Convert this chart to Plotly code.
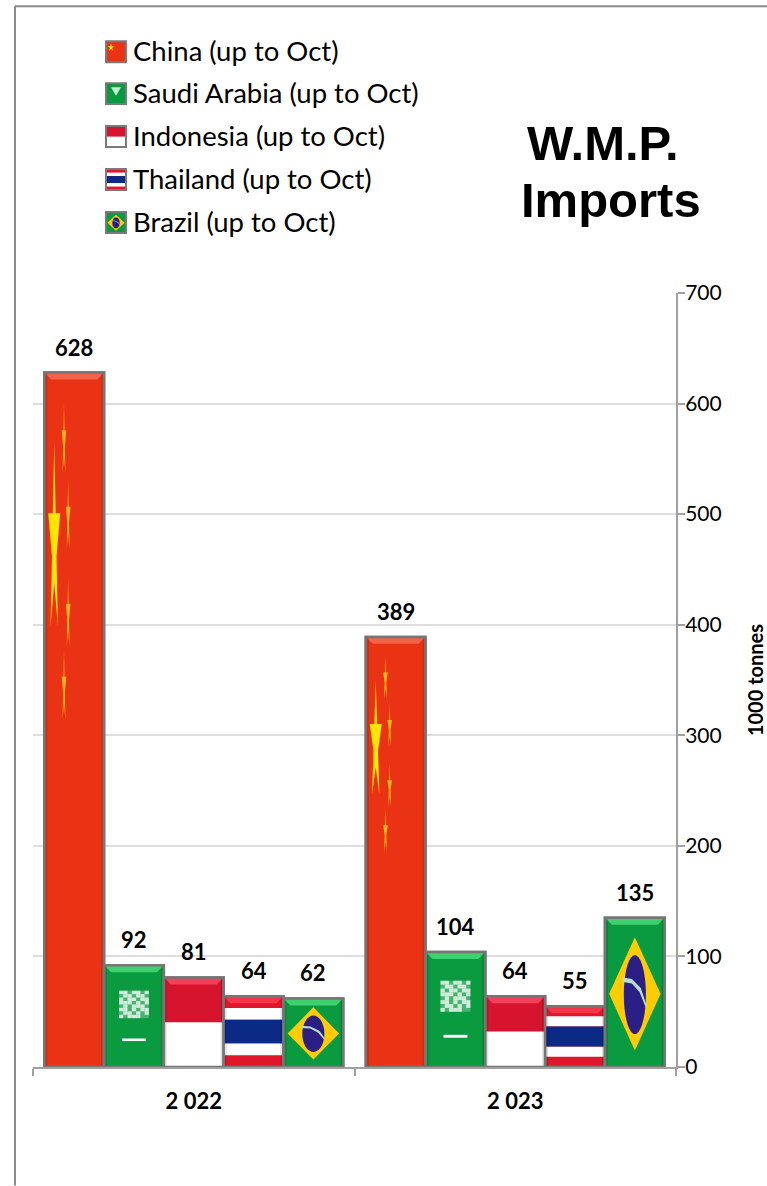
import math
import plotly.graph_objects as go

# ---- data ----
years = ["2 022", "2 023"]
countries = ["China", "Saudi Arabia", "Indonesia", "Thailand", "Brazil"]
legend_suffix = " (up to Oct)"
china = [628, 389]
saudi = [92, 104]
indonesia = [81, 64]
thailand = [64, 55]
brazil = [62, 135]
series = [china, saudi, indonesia, thailand, brazil]
y_ticks = [0, 100, 200, 300, 400, 500, 600, 700]

# ---- layout geometry (pixels of the page) ----
W, H = 767, 1186
L, R, T, B = 33, 676, 293, 1067.5
PW, PH = R - L, B - T
BARGAP = 0.07
BAR_W = (1 - BARGAP) / 5
PX_X = PW / 2.0      # px per x unit
PX_Y = PH / 700.0    # px per y unit

RED = "#EA3314"
GREEN = "#0A9A3F"
IND_RED = "#D7142E"
TH_RED = "#E0162B"
TH_BLUE = "#0A2A85"
YELLOW = "#FFCB05"
DBLUE = "#2B1F85"
BORDER = "#767676"
colors = [RED, GREEN, IND_RED, TH_RED, GREEN]
bevels = ["#F2634A", "#3FD070", "#F0405A", "#F5364A", "#3FD070"]

shapes = []


def poly(pts, fill, xref, yref, opacity=1.0):
    d = "M " + " L ".join(f"{x:.5f},{y:.5f}" for x, y in pts) + " Z"
    shapes.append(dict(type="path", path=d, fillcolor=fill, opacity=opacity,
                       line=dict(width=0), xref=xref, yref=yref, layer="above"))


def star(m, cu, cv, ru, rv, fill, ref):
    pts = []
    for k in range(10):
        a = -math.pi / 2 + k * math.pi / 5
        r = 1.0 if k % 2 == 0 else 0.38
        pts.append(m(cu + ru * r * math.cos(a), cv + rv * r * math.sin(a)))
    poly(pts, fill, *ref)


def ellipse_pts(m, cu, cv, ru, rv, n=36):
    return [m(cu + ru * math.cos(2 * math.pi * k / n), cv + rv * math.sin(2 * math.pi * k / n))
            for k in range(n)]


SAUDI_TEXT = ["1101101", "0110110", "1011011", "1110101", "0101110", "1101011", "0110101", "1011100"]


def draw_flag(idx, m, ref):
    """m maps (u, v) inside the bar (0..1, top to bottom) to axis coordinates"""
    rect = lambda u0, u1, v0, v1, c, o=1.0: poly(
        [m(u0, v0), m(u1, v0), m(u1, v1), m(u0, v1)], c, *ref, opacity=o)
    if idx == 0:
        star(m, 0.167, 0.2475, 0.105, 0.146, "#FFE600", ref)
        for cu, cv in [(0.33, 0.10), (0.40, 0.21), (0.40, 0.35), (0.33, 0.455)]:
            star(m, cu, cv, 0.04, 0.055, "#FDB515", ref)
    elif idx == 1:
        rows, cols = len(SAUDI_TEXT), len(SAUDI_TEXT[0])
        rect(0.25, 0.75, 0.25, 0.52, "#FFFFFF", 0.25)
        for r, row in enumerate(SAUDI_TEXT):
            for c, ch in enumerate(row):
                if ch == "1":
                    u0 = 0.25 + 0.5 * c / cols
                    v0 = 0.25 + 0.27 * r / rows
                    rect(u0, u0 + 0.5 / cols, v0, v0 + 0.27 / rows, "#FFFFFF", 0.75)
        rect(0.30, 0.70, 0.72, 0.745, "#FFFFFF")
    elif idx == 2:
        rect(0, 1, 0.5, 1, "#FFFFFF")
    elif idx == 3:
        rect(0, 1, 1 / 6, 2 / 6, "#FFFFFF")
        rect(0, 1, 2 / 6, 4 / 6, TH_BLUE)
        rect(0, 1, 4 / 6, 5 / 6, "#FFFFFF")
    elif idx == 4:
        poly([m(0.07, 0.51), m(0.5, 0.13), m(0.93, 0.51), m(0.5, 0.89)], YELLOW, *ref)
        poly(ellipse_pts(m, 0.5, 0.515, 0.185, 0.265), DBLUE, *ref)
        arc = [m(0.30, 0.40), m(0.45, 0.41), m(0.60, 0.47), m(0.69, 0.58),
               m(0.69, 0.61), m(0.58, 0.50), m(0.45, 0.44), m(0.30, 0.43)]
        poly(arc, "#B5DDD0", *ref)


traces = []
annotations = []
for i, (name, vals) in enumerate(zip(countries, series)):
    traces.append(go.Bar(name=name + legend_suffix, x=[0, 1], y=vals,
                         marker=dict(color=colors[i], line=dict(color=BORDER, width=2.5)),
                         showlegend=False))
    for g, v in enumerate(vals):
        x0 = g - (1 - BARGAP) / 2 + i * BAR_W
        x1 = x0 + BAR_W
        m = lambda u, w, x0=x0, x1=x1, v=v: (x0 + (x1 - x0) * u, v * (1 - w))
        ref = ("x", "y")
        draw_flag(i, m, ref)
        # bevel: lighter top band, darker sides
        dx, dy = 7 / PX_X, 7 / PX_Y
        sx = 3 / PX_X
        poly([(x0, v), (x1, v), (x1 - dx, v - dy), (x0 + dx, v - dy)], bevels[i], *ref)
        poly([(x0, 0), (x0 + sx, 0), (x0 + sx, v), (x0, v)], "#000000", *ref, opacity=0.12)
        poly([(x1 - sx, 0), (x1, 0), (x1, v), (x1 - sx, v)], "#000000", *ref, opacity=0.12)
        shapes.append(dict(type="rect", x0=x0, x1=x1, y0=0, y1=v, xref="x", yref="y",
                           line=dict(color=BORDER, width=2.5), layer="above"))
        annotations.append(dict(x=(x0 + x1) / 2, y=v, xref="x", yref="y", text=f"<b>{v}</b>",
                                showarrow=False, yanchor="bottom", yshift=10,
                                font=dict(family="Lato", size=22, color="#000000")))


# px -> paper helpers
def px(x):
    return (x - L) / PW


def py(y):
    return (B - y) / PH


# legend
legend_y = [50, 92, 135, 178, 221]
for i, (name, ly) in enumerate(zip(countries, legend_y)):
    sx0, sx1, sy0, sy1 = 106, 126, ly - 9, ly + 12
    m = lambda u, w, a=sx0, b=sx1, c=sy0, d=sy1: (px(a + (b - a) * u), py(c + (d - c) * w))
    ref = ("paper", "paper")
    poly([m(0, 0), m(1, 0), m(1, 1), m(0, 1)], colors[i], *ref)
    if i == 1:
        poly([m(.25, .2), m(.75, .2), m(.5, .6)], "#BFF0CF", *ref)
    elif i == 0:
        star(m, 0.25, 0.3, 0.16, 0.2, "#FFE600", ref)
    else:
        draw_flag(i, m, ref)
    shapes.append(dict(type="rect", x0=px(sx0), x1=px(sx1), y0=py(sy0), y1=py(sy1),
                       xref="paper", yref="paper", line=dict(color="#7A7A7A", width=2), layer="above"))
    annotations.append(dict(x=px(131), y=py(ly), xref="paper", yref="paper", xanchor="left",
                            yanchor="middle", showarrow=False, text=name + legend_suffix,
                            font=dict(family="Lato", size=27.5, color="#000000")))

# title
for txt, cx, cy in [("W.M.P.", 603, 143), ("Imports", 611, 200)]:
    annotations.append(dict(x=px(cx), y=py(cy), xref="paper", yref="paper", showarrow=False,
                            xanchor="center", yanchor="middle", text=f"<b>{txt}</b>",
                            font=dict(family="Liberation Sans", size=49, color="#000000")))

# outer frame (open on the right and at the bottom)
for x0, y0, x1, y1 in [(15, 6, 15, H), (15, 6, W, 6)]:
    shapes.append(dict(type="line", x0=px(x0), x1=px(x1), y0=py(y0), y1=py(y1), xref="paper",
                       yref="paper", line=dict(color="#8C8C8C", width=2), layer="below"))

fig = go.Figure(traces)
fig.update_layout(
    width=W, height=H, autosize=False,
    margin=dict(l=L, r=W - R, t=T, b=H - B, pad=0, autoexpand=False),
    paper_bgcolor="#FFFFFF", plot_bgcolor="#FFFFFF",
    barmode="group", bargap=BARGAP, bargroupgap=0,
    showlegend=False, shapes=shapes, annotations=annotations,
    xaxis=dict(range=[-0.5, 1.5], tickvals=[0, 1], ticktext=years, ticks="",
               showgrid=False, zeroline=False, showline=True, linecolor="#A0A0A0", linewidth=2,
               ticklabelstandoff=14,
               tickfont=dict(family="Lato", size=22, color="#000000", weight=700),
               minor=dict(tickvals=[-0.5, 0.5, 1.5], ticks="outside", ticklen=7,
                          tickcolor="#A0A0A0", tickwidth=2, showgrid=False)),
    yaxis=dict(range=[0, 700], side="right", tickvals=y_ticks, ticks="outside", ticklen=7,
               tickcolor="#A0A0A0", tickwidth=2, showline=True, linecolor="#A0A0A0", linewidth=2,
               showgrid=True, gridcolor="#DEDEDE", gridwidth=1.5, zeroline=False,
               ticklabelstandoff=-4,
               tickfont=dict(family="Lato", size=21, color="#000000"),
               title=dict(text="<b>1000 tonnes</b>", standoff=30,
                          font=dict(family="Lato", size=20, color="#000000"))),
)
fig.write_html("out.html", config=dict(displayModeBar=False),
               post_script="document.body.style.margin='0';document.body.style.overflow='hidden';")
